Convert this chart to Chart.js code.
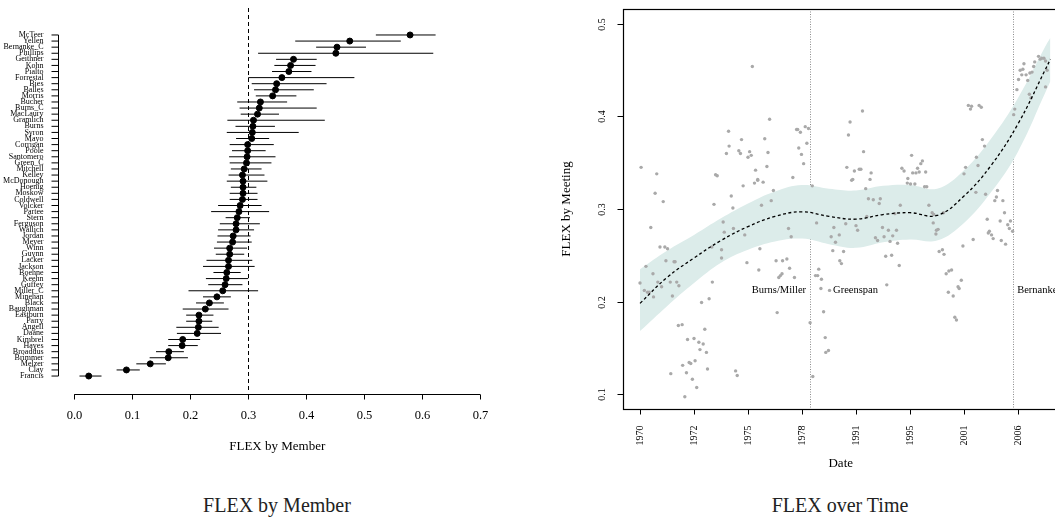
<!DOCTYPE html>
<html lang="en">
<head>
<meta charset="UTF-8">
<title>FLEX by Member / FLEX over Time</title>
<script src="https://cdn.jsdelivr.net/npm/chart.js"></script>
<style>
body {
  margin: 0;
  width: 1055px;
  height: 529px;
  overflow: hidden;
  position: relative;
  background: #fff;
  font-family: "Liberation Serif", serif;
}
canvas { position: absolute; top: 0; }
#memberChart { left: 0; }
#timeChart { left: 540px; }
.caption {
  position: absolute;
  top: 494px;
  font-size: 20px;
  color: #222;
  white-space: nowrap;
  transform: translateX(-50%);
}
</style>
</head>
<body>
<canvas id="memberChart" width="530" height="470"></canvas>
<canvas id="timeChart" width="560" height="470"></canvas>
<div class="caption" style="left:277px">FLEX by Member</div>
<div class="caption" style="left:840px">FLEX over Time</div>

<script>
// ---- FLEX by member: estimate with interval ----
const members = ['McTeer','Yellen','Bernanke_C','Phillips','Geithner','Kohn','Pialto','Forrestal','Bies','Balles',
  'Morris','Bucher','Burns_C','MacLaury','Gramlich','Burns','Syron','Mayo','Corrigan','Poole',
  'Santomero','Green_C','Mitchell','Kelley','McDonough','Hoenig','Moskow','Coldwell','Volcker','Partee',
  'Stern','Ferguson','Wallich','Jordan','Meyer','Winn','Guynn','Lacker','Jackson','Boehne',
  'Keehn','Guffey','Miller_C','Minehan','Black','Baughman','Eastburn','Parry','Angell','Daane',
  'Kimbrel','Hayes','Broaddus','Brimmer','Melzer','Clay','Francis'];
const memberFlex = [0.579,0.475,0.453,0.451,0.378,0.373,0.370,0.358,0.349,0.347,
  0.342,0.321,0.319,0.316,0.309,0.308,0.307,0.306,0.299,0.299,
  0.298,0.297,0.293,0.290,0.291,0.291,0.291,0.290,0.286,0.284,
  0.281,0.279,0.279,0.274,0.273,0.268,0.268,0.266,0.266,0.263,
  0.262,0.260,0.256,0.246,0.233,0.226,0.215,0.215,0.214,0.212,
  0.187,0.186,0.163,0.162,0.131,0.090,0.025];
const memberLow = [0.520,0.381,0.417,0.317,0.348,0.345,0.341,0.300,0.306,0.310,
  0.313,0.281,0.285,0.287,0.264,0.278,0.263,0.279,0.268,0.272,
  0.267,0.268,0.270,0.266,0.263,0.270,0.268,0.268,0.248,0.236,
  0.261,0.251,0.248,0.247,0.246,0.241,0.244,0.228,0.222,0.240,
  0.227,0.231,0.197,0.222,0.210,0.187,0.193,0.193,0.176,0.177,
  0.162,0.162,0.141,0.130,0.107,0.073,0.009];
const memberHigh = [0.623,0.563,0.503,0.619,0.418,0.416,0.409,0.483,0.435,0.413,
  0.383,0.367,0.418,0.353,0.432,0.346,0.387,0.336,0.344,0.330,
  0.347,0.340,0.323,0.328,0.333,0.314,0.316,0.316,0.323,0.336,
  0.303,0.320,0.310,0.304,0.306,0.298,0.293,0.307,0.311,0.287,
  0.300,0.290,0.317,0.270,0.258,0.266,0.240,0.238,0.249,0.253,
  0.217,0.213,0.189,0.196,0.158,0.113,0.047];
const memberTicks = [0.0, 0.1, 0.2, 0.3, 0.4, 0.5, 0.6, 0.7];
const memberRef = 0.3;

// ---- FLEX over time: one point per meeting, date on an evenly spaced axis ----
const yearTicks = ['1970','1972','1975','1978','1991','1995','2001','2006'];
const meetingDate = [
  2.08,2.40,1.64,2.90,2.92,2.97,3.06,3.12,2.31,1.88,1.65,1.83,1.86,2.03,2.06,2.00,1.60,2.37,2.94,2.99,
  3.09,3.03,2.35,2.14,2.18,2.83,0.02,0.31,1.40,1.43,
  3.89,4.12,3.86,4.14,3.83,3.97,4.06,4.09,4.28,3.94,4.26,5.03,4.85,4.89,5.05,5.11,5.17,5.14,5.20,5.23,
  5.29,4.96,6.08,6.14,6.12,6.28,6.32,6.34,6.38,6.23,6.26,6.03,6.00,6.94,6.92,6.98,7.01,7.09,7.11,7.04,
  7.07,7.15,7.18,7.22,7.26,7.29,7.31,7.38,7.41,7.44,7.48,7.51,7.54,7.51,7.21,7.24,
  0.28,0.43,1.37,1.91,2.12,2.18,2.28,2.47,1.69,1.72,2.25,2.43,0.20,0.37,0.46,0.51,1.54,1.56,1.73,1.94,
  2.75,2.80,1.33,1.51,0.11,0.48,0.63,0.65,1.51,1.98,2.22,2.20,2.52,2.64,2.72,2.77,2.60,2.57,2.63,2.86,
  0.00,0.08,0.14,0.17,0.24,0.33,0.40,0.25,0.56,0.68,0.72,0.60,1.34,1.14,1.28,2.54,0.71,0.78,1.20,3.15,
  3.92,4.18,4.95,5.01,5.09,5.27,5.31,4.23,4.32,4.45,4.43,4.82,5.35,5.41,5.44,5.43,5.49,5.52,5.48,5.62,
  4.72,4.20,3.27,3.59,3.81,4.00,4.03,3.54,3.62,3.69,4.49,4.60,4.75,4.36,4.40,4.52,4.63,4.77,4.68,3.57,
  3.77,4.55,4.66,4.80,3.70,3.73,3.31,3.25,3.29,3.36,3.35,4.57,5.54,5.60,5.63,5.67,5.72,5.77,5.95,5.89,
  5.91,5.71,5.80,5.83,5.86,3.40,5.98,6.17,6.22,6.40,6.43,6.57,6.62,6.72,6.60,6.75,6.67,6.47,6.51,6.54,
  6.45,6.69,6.77,6.81,6.84,6.86,6.90,3.19,3.51,
  0.88,1.00,1.09,1.17,1.11,1.23,1.02,0.91,0.94,0.79,0.86,0.57,1.25,0.97,1.05,0.83,1.77,1.80,3.43,3.44,
  3.49,3.20];
const meetingFlex = [
  0.454,0.397,0.384,0.386,0.386,0.383,0.389,0.387,0.376,0.375,0.368,0.363,0.360,0.362,0.358,0.356,0.360,0.361,0.366,0.359,
  0.371,0.349,0.346,0.342,0.332,0.334,0.345,0.338,0.337,0.336,
  0.394,0.406,0.380,0.362,0.345,0.341,0.343,0.343,0.339,0.332,0.332,0.358,0.344,0.341,0.339,0.339,0.340,0.344,0.349,0.352,
  0.340,0.333,0.412,0.411,0.408,0.412,0.410,0.375,0.368,0.356,0.347,0.345,0.338,0.408,0.402,0.429,0.440,0.451,0.457,0.450,
  0.445,0.445,0.439,0.447,0.448,0.454,0.459,0.465,0.462,0.463,0.463,0.460,0.450,0.432,0.424,0.420,
  0.317,0.308,0.305,0.325,0.328,0.331,0.329,0.320,0.314,0.301,0.304,0.309,0.280,0.259,0.259,0.257,0.286,0.275,0.279,0.272,
  0.279,0.270,0.259,0.256,0.238,0.244,0.243,0.243,0.247,0.242,0.257,0.234,0.244,0.244,0.246,0.236,0.228,0.226,0.230,0.226,
  0.220,0.212,0.210,0.210,0.230,0.221,0.216,0.205,0.221,0.221,0.217,0.206,0.221,0.199,0.203,0.188,0.174,0.175,0.170,0.177,
  0.331,0.322,0.328,0.327,0.327,0.324,0.324,0.311,0.310,0.311,0.306,0.304,0.304,0.296,0.294,0.285,0.277,0.278,0.273,0.296,
  0.295,0.292,0.285,0.280,0.284,0.282,0.277,0.270,0.264,0.272,0.280,0.277,0.277,0.269,0.266,0.270,0.265,0.263,0.271,0.255,
  0.254,0.249,0.250,0.239,0.244,0.241,0.235,0.228,0.228,0.224,0.214,0.218,0.254,0.256,0.251,0.230,0.233,0.234,0.223,0.216,
  0.214,0.210,0.206,0.183,0.180,0.189,0.260,0.267,0.318,0.316,0.289,0.309,0.320,0.309,0.313,0.296,0.287,0.276,0.272,0.268,
  0.274,0.266,0.262,0.283,0.279,0.287,0.276,0.325,0.212,
  0.159,0.160,0.156,0.154,0.148,0.145,0.136,0.134,0.133,0.131,0.123,0.122,0.127,0.116,0.107,0.097,0.125,0.120,0.161,0.145,
  0.147,0.119];

// smoothed trend with its confidence band
const trendDate  = [0, 0.5, 1, 1.5, 2, 2.5, 3, 3.5, 4, 4.5, 5, 5.5, 6, 6.5, 7, 7.5, 7.6];
const trendFit   = [0.198,0.226,0.247,0.266,0.281,0.292,0.297,0.292,0.289,0.294,0.296,0.293,0.314,0.347,0.392,0.450,0.462];
const trendUpper = [0.235,0.255,0.272,0.290,0.306,0.319,0.326,0.322,0.320,0.325,0.326,0.322,0.342,0.376,0.420,0.475,0.485];
const trendLower = [0.168,0.195,0.220,0.242,0.256,0.265,0.268,0.262,0.258,0.264,0.267,0.266,0.285,0.318,0.362,0.425,0.438];

// chair changes
const chairBreaks = [3.15, 6.91];
const chairNames = ['Burns/Miller', 'Greenspan', 'Bernanke'];
const flexTicks = [0.1, 0.2, 0.3, 0.4, 0.5];

const serif = '"Liberation Serif", serif';

// R-style axes for the member panel
const memberAxes = {
  id: 'memberAxes',
  beforeDatasetsDraw(chart) {
    const { ctx, chartArea, scales: { x } } = chart;
    const rx = Math.round(x.getPixelForValue(memberRef)) + 0.5;
    ctx.save();
    ctx.strokeStyle = '#000';
    ctx.lineWidth = 1;
    ctx.setLineDash([4, 3]);
    ctx.beginPath();
    ctx.moveTo(rx, chartArea.top);
    ctx.lineTo(rx, chartArea.bottom - 2);
    ctx.stroke();
    ctx.restore();
  },
  afterDraw(chart) {
    const { ctx, chartArea, scales: { x, y } } = chart;
    ctx.save();
    ctx.strokeStyle = '#000';
    ctx.fillStyle = '#000';
    ctx.lineWidth = 1;

    // member axis
    const ax = Math.round(chartArea.left) + 0.5;
    ctx.beginPath();
    ctx.moveTo(ax, y.getPixelForValue(1));
    ctx.lineTo(ax, y.getPixelForValue(members.length));
    ctx.stroke();
    ctx.font = '8px ' + serif;
    ctx.textAlign = 'right';
    ctx.textBaseline = 'middle';
    members.forEach((m, i) => {
      const py = y.getPixelForValue(i + 1);
      ctx.beginPath();
      ctx.moveTo(ax - 7, py);
      ctx.lineTo(ax, py);
      ctx.stroke();
      ctx.fillText(m, ax - 15, py);
    });

    // value axis
    const by = Math.round(chartArea.bottom) + 0.5;
    ctx.beginPath();
    ctx.moveTo(x.getPixelForValue(memberTicks[0]), by);
    ctx.lineTo(x.getPixelForValue(memberTicks[memberTicks.length - 1]), by);
    ctx.stroke();
    ctx.font = '12.5px ' + serif;
    ctx.textAlign = 'center';
    memberTicks.forEach(t => {
      const px = Math.round(x.getPixelForValue(t)) + 0.5;
      ctx.beginPath();
      ctx.moveTo(px, by);
      ctx.lineTo(px, by + 5);
      ctx.stroke();
      ctx.fillText(t.toFixed(1), px, by + 21);
    });
    ctx.font = '13px ' + serif;
    ctx.fillText('FLEX by Member', (x.getPixelForValue(0) + x.getPixelForValue(0.7)) / 2, by + 52);
    ctx.restore();
  }
};

new Chart(document.getElementById('memberChart'), {
  type: 'scatter',
  data: {
    datasets: [
      {
        // interval segments, broken between members
        type: 'line',
        data: members.flatMap((m, i) => [
          { x: memberLow[i], y: i + 1 },
          { x: memberHigh[i], y: i + 1 },
          { x: null, y: null }
        ]),
        borderColor: '#000',
        borderWidth: 1,
        pointRadius: 0,
        spanGaps: false,
        fill: false
      },
      {
        data: members.map((m, i) => ({ x: memberFlex[i], y: i + 1 })),
        backgroundColor: '#000',
        borderColor: '#000',
        pointRadius: 3
      }
    ]
  },
  options: {
    responsive: false,
    animation: false,
    layout: { autoPadding: false, padding: { left: 58, right: 33.5, top: 8, bottom: 76 } },
    scales: {
      x: { type: 'linear', min: -0.028, max: 0.728, display: false },
      y: { type: 'linear', min: -3.43, max: 59.95, reverse: true, display: false }
    },
    plugins: { legend: { display: false }, tooltip: { enabled: false } }
  },
  plugins: [memberAxes]
});

// box, rotated ticks and chair markers for the time panel
const timeAxes = {
  id: 'timeAxes',
  beforeDatasetsDraw(chart) {
    const { ctx, chartArea, scales: { x, y } } = chart;
    ctx.save();
    ctx.strokeStyle = '#8c8c8c';
    ctx.lineWidth = 1;
    ctx.setLineDash([1, 1.5]);
    chairBreaks.forEach(b => {
      const px = Math.round(x.getPixelForValue(b)) + 0.5;
      ctx.beginPath();
      ctx.moveTo(px, chartArea.top);
      ctx.lineTo(px, chartArea.bottom);
      ctx.stroke();
    });
    ctx.restore();
  },
  afterDraw(chart) {
    const { ctx, chartArea, scales: { x, y } } = chart;
    ctx.save();
    ctx.strokeStyle = '#000';
    ctx.fillStyle = '#000';

    // chair labels
    const ly = y.getPixelForValue(0.212);
    const b0 = x.getPixelForValue(chairBreaks[0]);
    const b1 = x.getPixelForValue(chairBreaks[1]);
    ctx.font = '10.5px ' + serif;
    ctx.textBaseline = 'middle';
    ctx.textAlign = 'right';
    ctx.fillText(chairNames[0], b0 - 4, ly);
    ctx.textAlign = 'left';
    ctx.fillText(chairNames[1], b0 + 23, ly);
    ctx.fillText(chairNames[2], b1 + 4, ly);

    // box
    ctx.lineWidth = 1.2;
    ctx.strokeRect(Math.round(chartArea.left) + 0.5, Math.round(chartArea.top) + 0.5,
      chartArea.right - chartArea.left, Math.round(chartArea.bottom - chartArea.top));

    ctx.lineWidth = 1;
    ctx.font = '10px ' + serif;
    const bottom = Math.round(chartArea.bottom) + 0.5;
    yearTicks.forEach((lab, k) => {
      const px = Math.round(x.getPixelForValue(k)) + 0.5;
      ctx.beginPath();
      ctx.moveTo(px, bottom);
      ctx.lineTo(px, bottom + 5);
      ctx.stroke();
      ctx.save();
      ctx.translate(px, bottom + 16);
      ctx.rotate(-Math.PI / 2);
      ctx.textAlign = 'right';
      ctx.textBaseline = 'middle';
      ctx.fillText(lab, 0, 0);
      ctx.restore();
    });

    const left = Math.round(chartArea.left) + 0.5;
    flexTicks.forEach(t => {
      const py = Math.round(y.getPixelForValue(t)) + 0.5;
      ctx.beginPath();
      ctx.moveTo(left - 6, py);
      ctx.lineTo(left, py);
      ctx.stroke();
      ctx.save();
      ctx.translate(left - 21, py);
      ctx.rotate(-Math.PI / 2);
      ctx.textAlign = 'center';
      ctx.textBaseline = 'middle';
      ctx.fillText(t.toFixed(1), 0, 0);
      ctx.restore();
    });

    // axis titles
    ctx.font = '13px ' + serif;
    ctx.textAlign = 'center';
    ctx.textBaseline = 'middle';
    ctx.fillText('Date', (chartArea.left + chartArea.right) / 2, chartArea.bottom + 55);
    ctx.save();
    ctx.translate(chartArea.left - 56, (chartArea.top + chartArea.bottom) / 2);
    ctx.rotate(-Math.PI / 2);
    ctx.fillText('FLEX by Meeting', 0, 0);
    ctx.restore();
    ctx.restore();
  }
};

new Chart(document.getElementById('timeChart'), {
  type: 'scatter',
  data: {
    datasets: [
      {
        type: 'line',
        data: trendDate.map((d, i) => ({ x: d, y: trendLower[i] })),
        borderWidth: 0,
        borderColor: 'rgba(0,0,0,0)',
        pointRadius: 0,
        tension: 0.4,
        fill: false,
        order: 4
      },
      {
        type: 'line',
        data: trendDate.map((d, i) => ({ x: d, y: trendUpper[i] })),
        borderWidth: 0,
        borderColor: 'rgba(0,0,0,0)',
        backgroundColor: '#dcecea',
        pointRadius: 0,
        tension: 0.4,
        fill: '-1',
        order: 3
      },
      {
        data: meetingDate.map((d, i) => ({ x: d, y: meetingFlex[i] })),
        backgroundColor: '#a9a9a9',
        borderColor: '#a9a9a9',
        pointRadius: 1.7,
        borderWidth: 0,
        order: 2
      },
      {
        type: 'line',
        data: trendDate.map((d, i) => ({ x: d, y: trendFit[i] })),
        borderColor: '#000',
        borderWidth: 1.3,
        borderDash: [3, 2.5],
        pointRadius: 0,
        tension: 0.4,
        fill: false,
        order: 1
      }
    ]
  },
  options: {
    responsive: false,
    animation: false,
    layout: { autoPadding: false, padding: { left: 83, right: 41.5, top: 9, bottom: 61 } },
    scales: {
      x: { type: 'linear', min: -0.315, max: 7.75, display: false },
      y: { type: 'linear', min: 0.0838, max: 0.5162, display: false }
    },
    plugins: { legend: { display: false }, tooltip: { enabled: false } }
  },
  plugins: [timeAxes]
});
</script>
</body>
</html>
